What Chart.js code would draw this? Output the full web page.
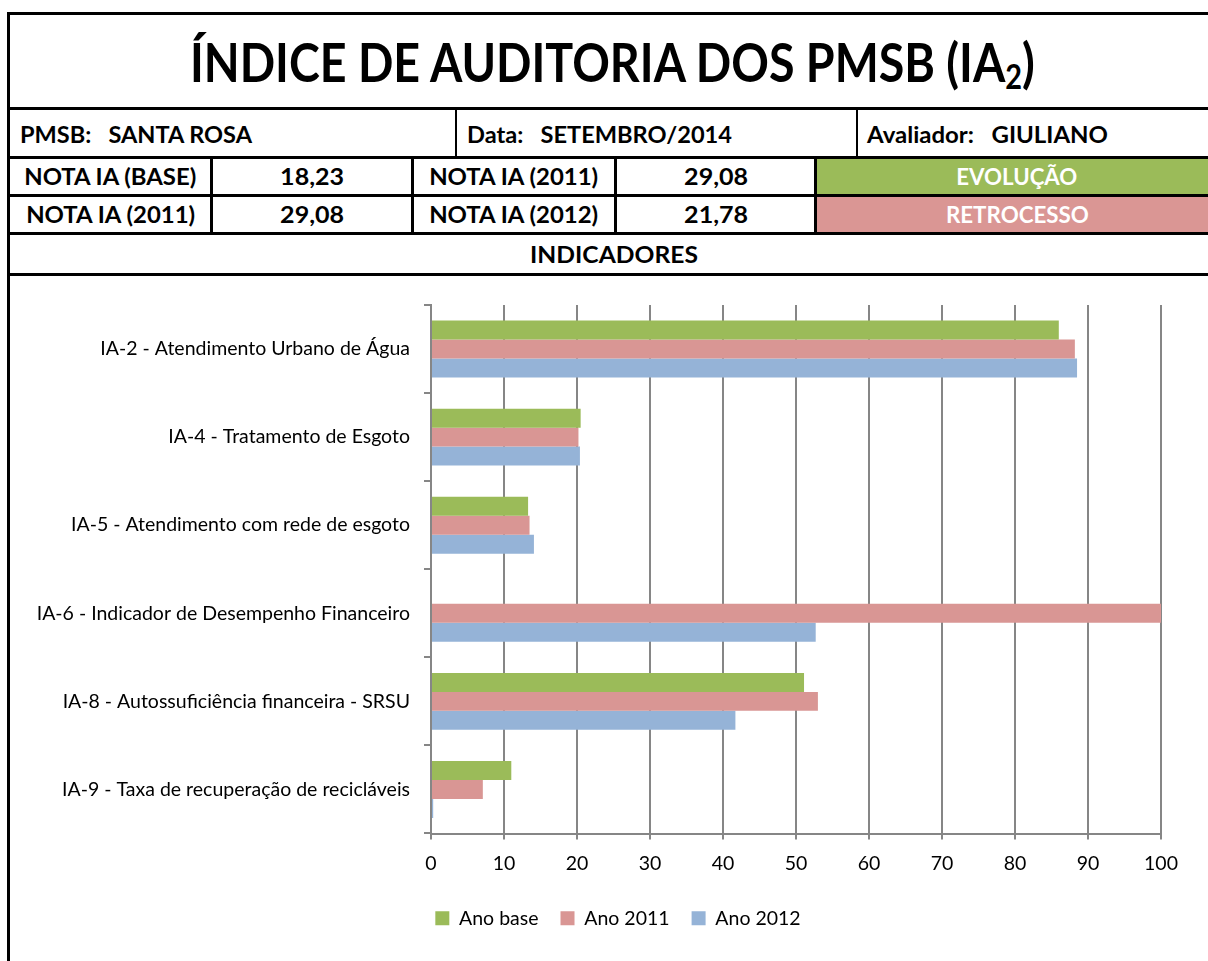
<!DOCTYPE html>
<html>
<head>
<meta charset="utf-8">
<title>Índice de Auditoria dos PMSB</title>
<script src="https://cdn.jsdelivr.net/npm/chart.js@4/dist/chart.umd.min.js"></script>
<style>
  html, body { margin: 0; padding: 0; background: #fff; overflow: hidden; }
  #sheet { position: relative; width: 1208px; height: 961px; font-family: Lato, "Open Sans", sans-serif; }
  .ln { position: absolute; background: #000; }
  .cell { position: absolute; display: flex; align-items: center; font-weight: bold; font-size: 22px; color: #000; white-space: nowrap; }
  .cell.c { justify-content: center; }
  .fit { display: inline-block; transform-origin: center center; }
  .cell.l .fit { transform-origin: left center; }
  .fill { position: absolute; }
  #title { font-size: 54px; }
  #title sub { font-size: 0.62em; vertical-align: -0.2em; line-height: 0; }
  .white { color: #fff; }
  #chartBox { position: absolute; left: 10px; top: 276px; }
</style>
</head>
<body>
<div id="sheet">
  <!-- coloured status cells -->
  <div class="fill" style="left:817px;top:159px;width:391px;height:35px;background:#9BBB59"></div>
  <div class="fill" style="left:817px;top:197px;width:391px;height:35px;background:#DA9694"></div>

  <!-- title -->
  <div class="cell c" id="title" style="left:10px;top:15px;width:1204px;height:92px;"><span class="fit" data-w="845">ÍNDICE DE AUDITORIA DOS PMSB (IA<sub>2</sub>)</span></div>

  <!-- identification row -->
  <div class="cell l" style="left:20px;top:111px;height:46px;"><span class="fit" data-w="232">PMSB:&nbsp;&nbsp; SANTA ROSA</span></div>
  <div class="cell l" style="left:467px;top:111px;height:46px;"><span class="fit" data-w="265">Data:&nbsp;&nbsp; SETEMBRO/2014</span></div>
  <div class="cell l" style="left:867px;top:111px;height:46px;"><span class="fit" data-w="241">Avaliador:&nbsp;&nbsp; GIULIANO</span></div>

  <!-- score rows -->
  <div class="cell c" style="left:10px;top:159px;width:201px;height:35px;"><span class="fit" data-w="172">NOTA IA (BASE)</span></div>
  <div class="cell c" style="left:213px;top:159px;width:199px;height:35px;"><span class="fit" data-w="64">18,23</span></div>
  <div class="cell c" style="left:414px;top:159px;width:200px;height:35px;"><span class="fit" data-w="169">NOTA IA (2011)</span></div>
  <div class="cell c" style="left:617px;top:159px;width:198px;height:35px;"><span class="fit" data-w="64">29,08</span></div>
  <div class="cell c white" style="left:817px;top:159px;width:400px;height:35px;"><span class="fit" data-w="121">EVOLUÇÃO</span></div>

  <div class="cell c" style="left:10px;top:197px;width:201px;height:35px;"><span class="fit" data-w="169">NOTA IA (2011)</span></div>
  <div class="cell c" style="left:213px;top:197px;width:199px;height:35px;"><span class="fit" data-w="64">29,08</span></div>
  <div class="cell c" style="left:414px;top:197px;width:200px;height:35px;"><span class="fit" data-w="169">NOTA IA (2012)</span></div>
  <div class="cell c" style="left:617px;top:197px;width:198px;height:35px;"><span class="fit" data-w="64">21,78</span></div>
  <div class="cell c white" style="left:817px;top:197px;width:400px;height:35px;"><span class="fit" data-w="143">RETROCESSO</span></div>

  <div class="cell c" style="left:10px;top:235px;width:1208px;height:38px;"><span class="fit" data-w="168">INDICADORES</span></div>

  <!-- grid lines of the sheet -->
  <div class="ln" style="left:7px;top:12px;width:3px;height:949px"></div>
  <div class="ln" style="left:7px;top:12px;width:1201px;height:3px"></div>
  <div class="ln" style="left:7px;top:107px;width:1201px;height:3px"></div>
  <div class="ln" style="left:7px;top:156px;width:1201px;height:3px"></div>
  <div class="ln" style="left:7px;top:194px;width:1201px;height:3px"></div>
  <div class="ln" style="left:7px;top:232px;width:1201px;height:3px"></div>
  <div class="ln" style="left:7px;top:273px;width:1201px;height:3px"></div>
  <div class="ln" style="left:455px;top:110px;width:2px;height:47px"></div>
  <div class="ln" style="left:856px;top:110px;width:2px;height:47px"></div>
  <div class="ln" style="left:210px;top:157px;width:3px;height:77px"></div>
  <div class="ln" style="left:411px;top:157px;width:3px;height:77px"></div>
  <div class="ln" style="left:614px;top:157px;width:3px;height:77px"></div>
  <div class="ln" style="left:814px;top:157px;width:3px;height:77px"></div>

  <canvas id="chartBox" width="1198" height="685"></canvas>
</div>

<script>
// Indicators and yearly values (0–100 scale)
const categories = [
  'IA-2 - Atendimento Urbano de Água',
  'IA-4 - Tratamento de Esgoto',
  'IA-5 - Atendimento com rede de esgoto',
  'IA-6 - Indicador de Desempenho Financeiro',
  'IA-8 - Autossuficiência financeira - SRSU',
  'IA-9 - Taxa de recuperação de recicláveis'
];
const seriesNames = ['Ano base', 'Ano 2011', 'Ano 2012'];
const anoBase = [86.0, 20.5, 13.3, 0, 51.1, 11.0];
const ano2011 = [88.2, 20.2, 13.5, 100, 53.0, 7.1];
const ano2012 = [88.5, 20.4, 14.1, 52.7, 41.7, 0.3];
const xMin = 0, xMax = 100, xStep = 10;

// Condense header text to the widths of the spreadsheet cells
document.querySelectorAll('.fit').forEach(el => {
  const target = parseFloat(el.dataset.w);
  const w = el.getBoundingClientRect().width;
  if (w > 0) el.style.transform = 'scaleX(' + (target / w).toFixed(4) + ')';
});

const axisGrey = '#868686';
const chartFont = { family: 'Lato', size: 19.5 };
const barStyle = { categoryPercentage: 0.646, barPercentage: 1.0, borderWidth: 0 };

// Centre the legend under the whole sheet rather than under the padded box
const legendShift = {
  id: 'legendShift',
  afterLayout(chart) {
    if (chart.legend) chart.legend.left += 65;
  }
};

new Chart(document.getElementById('chartBox'), {
  type: 'bar',
  data: {
    labels: categories,
    datasets: [
      Object.assign({ label: seriesNames[0], data: anoBase, backgroundColor: '#9BBB59' }, barStyle),
      Object.assign({ label: seriesNames[1], data: ano2011, backgroundColor: '#D99694' }, barStyle),
      Object.assign({ label: seriesNames[2], data: ano2012, backgroundColor: '#95B3D7' }, barStyle)
    ]
  },
  plugins: [legendShift],
  options: {
    indexAxis: 'y',
    responsive: false,
    animation: false,
    layout: { padding: { left: 0, right: 47, top: 29, bottom: 23 } },
    plugins: {
      tooltip: { enabled: false },
      legend: {
        position: 'bottom',
        labels: { boxWidth: 14, boxHeight: 14, padding: 22, color: '#000', font: chartFont }
      }
    },
    scales: {
      x: {
        min: xMin, max: xMax,
        ticks: { stepSize: xStep, color: '#000', padding: 13, font: chartFont },
        grid: { color: axisGrey, lineWidth: 2, tickLength: 6 },
        border: { color: axisGrey, width: 2 },
        afterFit(scale) { scale.height = 53; }
      },
      y: {
        ticks: { color: '#000', padding: 14, font: chartFont },
        grid: { offset: true, drawOnChartArea: false, color: axisGrey, lineWidth: 2, tickLength: 7 },
        border: { color: axisGrey, width: 2 },
        afterFit(scale) { scale.width = 421; }
      }
    }
  }
});
</script>
</body>
</html>
